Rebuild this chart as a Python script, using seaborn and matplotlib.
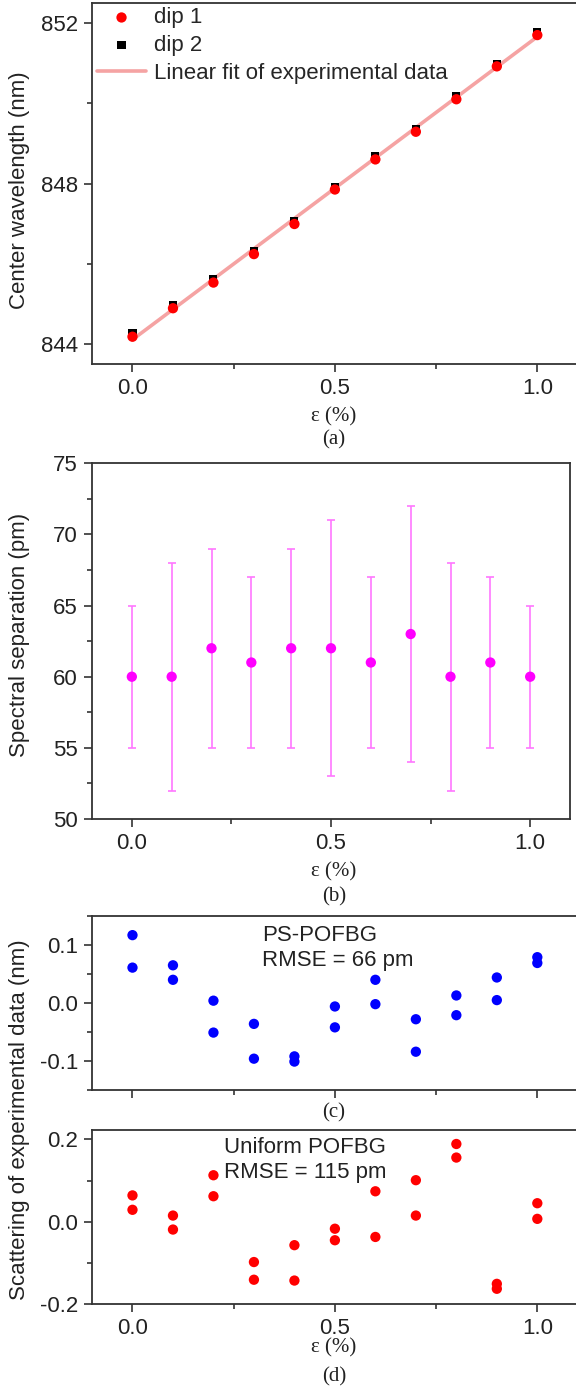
import numpy as np
import pandas as pd
import matplotlib
matplotlib.use("Agg")
import matplotlib.pyplot as plt
import matplotlib.transforms as mtransforms
from matplotlib.ticker import MultipleLocator
import seaborn as sns

# strain steps (%)
strain = [0.0, 0.1, 0.2, 0.3, 0.4, 0.5, 0.6, 0.7, 0.8, 0.9, 1.0]

# (a) center wavelength of the two dips (nm)
dip1 = [844.18, 844.89, 845.53, 846.24, 846.99, 847.85, 848.60, 849.29, 850.10, 850.92, 851.70]
dip2 = [844.27, 844.97, 845.61, 846.32, 847.07, 847.92, 848.68, 849.36, 850.17, 850.99, 851.78]

# (b) spectral separation (pm) with min / max
sep_mean = [60, 60, 62, 61, 62, 62, 61, 63, 60, 61, 60]
sep_high = [65, 68, 69, 67, 69, 71, 67, 72, 68, 67, 65]
sep_low = [55, 52, 55, 55, 55, 53, 55, 54, 52, 55, 55]

# (c) PS-POFBG residuals (nm), two readings per strain step
ps_res1 = [0.117, 0.065, 0.004, -0.036, -0.092, -0.006, 0.040, -0.028, 0.013, 0.044, 0.079]
ps_res2 = [0.061, 0.040, -0.051, -0.096, -0.101, -0.042, -0.002, -0.084, -0.021, 0.005, 0.069]

# (d) uniform POFBG residuals (nm)
uni_res1 = [0.064, 0.015, 0.113, -0.098, -0.057, -0.017, 0.074, 0.101, 0.189, -0.151, 0.045]
uni_res2 = [0.029, -0.019, 0.062, -0.141, -0.143, -0.045, -0.037, 0.015, 0.156, -0.163, 0.007]

W, H = 576, 1390

sns.set_theme(style="ticks")
plt.rcParams['font.family'] = ['Liberation Sans', 'DejaVu Sans']
plt.rcParams['axes.edgecolor'] = '#333333'
plt.rcParams['axes.linewidth'] = 1.3
plt.rcParams['xtick.color'] = '#333333'
plt.rcParams['ytick.color'] = '#333333'
plt.rcParams['xtick.labelcolor'] = '#222222'
plt.rcParams['ytick.labelcolor'] = '#222222'

fig = plt.figure(figsize=(W / 100, H / 100), dpi=100)


def box(left, right, top, bottom):
    return [left / W, 1 - bottom / H, (right - left) / W, (bottom - top) / H]


def style_axis(ax, show_xlabels=True):
    ax.set_xlim(-0.1, 1.1)
    ax.xaxis.set_major_locator(MultipleLocator(0.5))
    ax.xaxis.set_minor_locator(MultipleLocator(0.25))
    ax.tick_params(which='major', direction='out', length=6, width=1.2, labelsize=16, pad=4)
    ax.tick_params(which='minor', direction='out', length=3.5, width=1.2)
    if not show_xlabels:
        ax.tick_params(axis='x', labelbottom=False)
    ax.set_xlabel("")
    ax.set_ylabel("")
    for s in ax.spines.values():
        s.set_visible(True)


def serif_text(x, y, s):
    fig.text(x / W, 1 - y / H, s, ha='center', va='center', fontsize=15,
             family=['Liberation Serif', 'DejaVu Serif'], color='#222222')


def side_label(y, s):
    fig.text(20 / W, 1 - y / H, s, rotation=90, ha='center', va='center',
             fontsize=16, color='#222222')


# ---- (a) ----
ax1 = fig.add_axes(box(92, 577.8, 3, 364))
fit = np.polyfit(strain + strain, dip1 + dip2, 1)
fit_df = pd.DataFrame({"x": strain, "y": np.polyval(fit, strain)})
sns.lineplot(data=fit_df, x="x", y="y", ax=ax1, color='#f5a3a3', lw=2.6,
             label="Linear fit of experimental data", zorder=1)
sns.scatterplot(x=strain, y=dip2, ax=ax1, marker='s', color='black', s=34,
                edgecolor='none', label="dip 2", zorder=2)
sns.scatterplot(x=strain, y=dip1, ax=ax1, marker='o', color='red', s=55,
                edgecolor='none', label="dip 1", zorder=3)
ax1.set_ylim(843.5, 852.5)
ax1.yaxis.set_major_locator(MultipleLocator(4))
ax1.yaxis.set_minor_locator(MultipleLocator(2))
style_axis(ax1)
h, l = ax1.get_legend_handles_labels()
order = [l.index("dip 1"), l.index("dip 2"), l.index("Linear fit of experimental data")]
ax1.legend([h[i] for i in order], [l[i] for i in order], loc='upper left',
           bbox_to_anchor=(-0.017, 1.025), frameon=False, fontsize=16,
           labelspacing=0.3, handlelength=2.2, handletextpad=0.35, borderaxespad=0.2)
side_label(190, "Center wavelength (nm)")
serif_text(334, 417, "ε (%)")
serif_text(334, 440, "(a)")

# ---- (b) ----
ax2 = fig.add_axes(box(92, 570, 463.3, 819))
yerr = [np.array(sep_mean) - np.array(sep_low), np.array(sep_high) - np.array(sep_mean)]
ax2.errorbar(strain, sep_mean, yerr=yerr, fmt='none', ecolor='#ff77ff',
             elinewidth=1.2, capsize=3, capthick=1.2, zorder=1)
sns.scatterplot(x=strain, y=sep_mean, ax=ax2, color='#ff00ff', s=55,
                edgecolor='none', zorder=2)
ax2.set_ylim(50, 75)
ax2.yaxis.set_major_locator(MultipleLocator(5))
ax2.yaxis.set_minor_locator(MultipleLocator(2.5))
style_axis(ax2)
side_label(635, "Spectral separation (pm)")
serif_text(334, 872, "ε (%)")
serif_text(334, 897, "(b)")

# ---- (c) ----
ax3 = fig.add_axes(box(92, 577.8, 916, 1090))
sns.scatterplot(x=strain + strain, y=ps_res1 + ps_res2, ax=ax3, color='#0000ff',
                s=55, edgecolor='none')
ax3.set_ylim(-0.15, 0.15)
ax3.yaxis.set_major_locator(MultipleLocator(0.1))
ax3.yaxis.set_minor_locator(MultipleLocator(0.05))
style_axis(ax3, show_xlabels=False)
ax3.set_yticks([-0.1, 0.0, 0.1], ["-0.1", "0.0", "0.1"])
tr3 = mtransforms.blended_transform_factory(ax3.transData, ax3.transAxes)
ax3.text(0.32, 0.95, "PS-POFBG\nRMSE = 66 pm", transform=tr3,
         ha='left', va='top', fontsize=16, color='#222222', linespacing=1.25)
serif_text(334, 1113, "(c)")

# ---- (d) ----
ax4 = fig.add_axes(box(92, 577.8, 1130, 1304))
sns.scatterplot(x=strain + strain, y=uni_res1 + uni_res2, ax=ax4, color='red',
                s=55, edgecolor='none')
ax4.set_ylim(-0.2, 0.223)
ax4.yaxis.set_major_locator(MultipleLocator(0.2))
ax4.yaxis.set_minor_locator(MultipleLocator(0.1))
style_axis(ax4)
ax4.set_yticks([-0.2, 0.0, 0.2], ["-0.2", "0.0", "0.2"])
tr4 = mtransforms.blended_transform_factory(ax4.transData, ax4.transAxes)
ax4.text(0.227, 0.96, "Uniform POFBG\nRMSE = 115 pm", transform=tr4,
         ha='left', va='top', fontsize=16, color='#222222', linespacing=1.25)
side_label(1120, "Scattering of experimental data (nm)")
serif_text(334, 1348, "ε (%)")
serif_text(334, 1377, "(d)")

fig.savefig("out.png", dpi=100)
